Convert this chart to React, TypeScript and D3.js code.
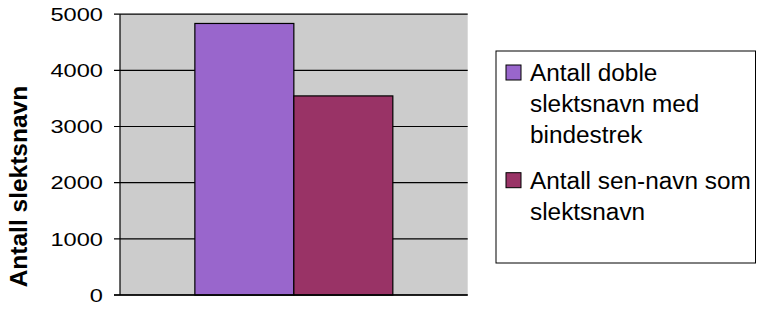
import React from "react";
import * as d3 from "d3";

const categories = [""];
const seriesNames = [
  "Antall doble slektsnavn med bindestrek",
  "Antall sen-navn som slektsnavn",
];
const seriesValues = [4835, 3545];
const seriesColors = ["#9966CC", "#993366"];
const legendLines = [
  ["Antall doble", "slektsnavn med", "bindestrek"],
  ["Antall sen-navn som", "slektsnavn"],
];
const yTicks = [0, 1000, 2000, 3000, 4000, 5000];
const yTitle = "Antall slektsnavn";

const W = 760;
const H = 310;
const plot = { left: 120, right: 467.7, top: 14.2, bottom: 295 };
const FONT = "'Liberation Sans', Arial, Helvetica, sans-serif";

export default function App() {
  const y = d3.scaleLinear().domain([0, 5000]).range([plot.bottom, plot.top]);
  const x0 = d3
    .scaleBand<string>()
    .domain(categories)
    .range([plot.left, plot.right])
    .paddingInner(0.2744)
    .paddingOuter(0.2744);
  const x1 = d3
    .scaleBand<string>()
    .domain(seriesNames)
    .range([0, x0.bandwidth()]);

  const legendX = 496;
  const legendY = 51;
  const entryTop = [65, 172.7];
  const lineH = 30.8;

  return (
    <svg
      width={W}
      height={H}
      style={{ position: "absolute", left: 0, top: 0, background: "#fff" }}
    >
      <rect
        x={plot.left}
        y={plot.top}
        width={plot.right - plot.left}
        height={plot.bottom - plot.top}
        fill="#CCCCCC"
      />
      {yTicks.map((t) => (
        <g key={t}>
          <line
            x1={plot.left - 6}
            x2={plot.right}
            y1={y(t)}
            y2={y(t)}
            stroke="#000"
            strokeWidth={1.2}
          />
          <text
            transform={`translate(${plot.left - 17},${y(t) + 6.7}) scale(1.27,1)`}
            textAnchor="end"
            fontFamily={FONT}
            fontSize={18.6}
            fill="#000"
          >
            {t}
          </text>
        </g>
      ))}
      <line
        x1={plot.left}
        x2={plot.left}
        y1={plot.top}
        y2={plot.bottom}
        stroke="#000"
        strokeWidth={1.2}
      />
      {categories.map((c) =>
        seriesNames.map((s, i) => (
          <rect
            key={s}
            x={(x0(c) ?? 0) + (x1(s) ?? 0)}
            y={y(seriesValues[i])}
            width={x1.bandwidth()}
            height={plot.bottom - y(seriesValues[i])}
            fill={seriesColors[i]}
            stroke="#000"
            strokeWidth={1.2}
          />
        ))
      )}
      <line
        x1={plot.left - 6}
        x2={plot.right}
        y1={plot.bottom}
        y2={plot.bottom}
        stroke="#000"
        strokeWidth={1.5}
      />
      <text
        transform={`translate(27,${(plot.top + plot.bottom) / 2 + 32}) rotate(-90)`}
        textAnchor="middle"
        fontFamily={FONT}
        fontWeight="bold"
        fontSize={24.5}
        fill="#000"
      >
        {yTitle}
      </text>
      <rect
        x={legendX}
        y={legendY}
        width={259.5}
        height={212}
        fill="#fff"
        stroke="#000"
        strokeWidth={1}
      />
      {legendLines.map((lines, i) => (
        <g key={i}>
          <rect
            x={506}
            y={entryTop[i]}
            width={15}
            height={15}
            fill={seriesColors[i]}
            stroke="#000"
            strokeWidth={1}
          />
          {lines.map((ln, j) => (
            <text
              key={j}
              transform={`translate(530,${entryTop[i] + 16 + j * lineH}) scale(1.06,1)`}
              fontFamily={FONT}
              fontSize={23}
              fill="#000"
            >
              {ln}
            </text>
          ))}
        </g>
      ))}
    </svg>
  );
}
